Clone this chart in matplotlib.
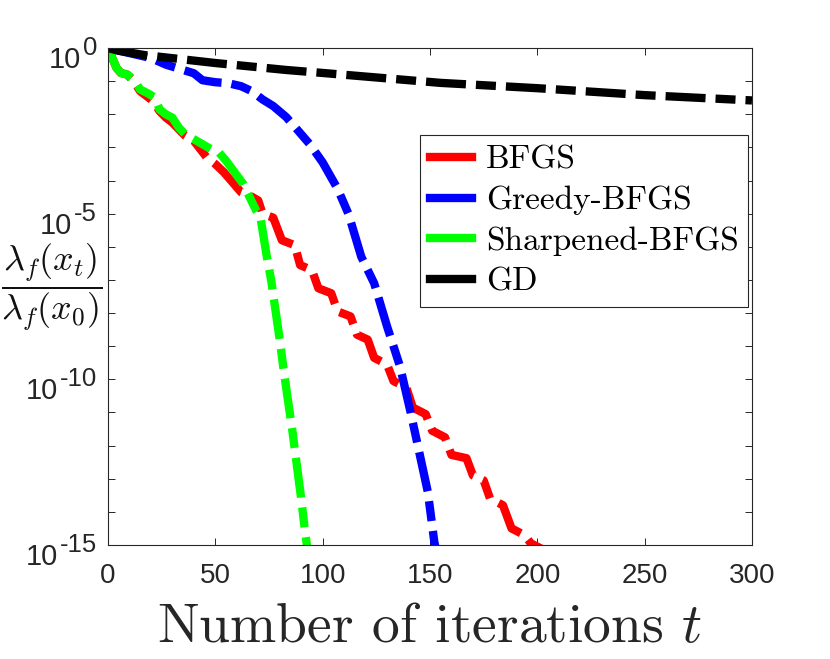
import numpy as np
import matplotlib.pyplot as plt
from matplotlib.ticker import FixedLocator, NullFormatter

plt.rcParams['font.family'] = ['Liberation Sans', 'DejaVu Sans']
plt.rcParams['mathtext.fontset'] = 'cm'
plt.rcParams['lines.scale_dashes'] = False

# values, y given as log10 of the ratio
bfgs_t = [0, 2, 4, 6, 9, 12, 15, 18, 21, 24, 27, 30, 33, 36, 40, 43, 46, 50, 54, 58,
          62, 66, 70, 72, 77, 81, 87, 89.5, 95, 98, 104, 107, 113, 116, 121, 124, 130,
          133, 139, 142, 148, 151, 157, 160, 167, 170, 175, 178, 184, 188, 194, 197, 203]
bfgs_log = [0, -0.3, -0.6, -0.75, -0.8, -1.0, -1.3, -1.45, -1.6, -1.9, -2.1, -2.25, -2.45,
            -2.65, -2.8, -3.05, -3.3, -3.5, -3.75, -4.05, -4.35, -4.45, -4.6, -5.0, -5.12,
            -5.8, -5.95, -6.55, -6.7, -7.25, -7.4, -7.95, -8.1, -8.65, -8.8, -9.35, -9.55,
            -10.05, -10.25, -10.85, -11.05, -11.55, -11.75, -12.28, -12.38, -12.9, -13.05,
            -13.6, -13.8, -14.5, -14.7, -14.95, -15.15]

greedy_t = [0, 10, 20, 27, 35, 40, 44, 50, 56, 62, 67, 72, 77, 83, 88, 94, 100, 107,
            112, 118, 124, 130, 136, 141, 145, 149, 152, 154]
greedy_log = [0, -0.15, -0.3, -0.5, -0.66, -0.76, -0.97, -1.03, -1.06, -1.15, -1.3,
              -1.55, -1.75, -2.08, -2.45, -2.9, -3.45, -4.25, -5.0, -6.3, -7.1, -8.4,
              -9.6, -11.0, -12.2, -13.4, -14.9, -15.5]

sharp_t = [0, 2, 4, 6, 9, 12, 15, 19, 22, 24, 27, 30, 33, 36, 40, 44, 48, 51, 55, 59,
           63, 66, 69, 71, 74, 76, 78, 80, 82, 84, 86, 88, 90, 92, 94]
sharp_log = [0, -0.3, -0.6, -0.75, -0.8, -0.95, -1.25, -1.38, -1.5, -1.85, -2.0, -2.1,
             -2.4, -2.6, -2.75, -2.9, -3.05, -3.1, -3.4, -3.75, -4.1, -4.5, -4.9, -5.1,
             -6.3, -7.0, -7.9, -8.8, -9.8, -10.7, -11.6, -12.6, -13.6, -14.7, -15.6]

gd_t = [0, 5, 17, 50, 83, 100, 155, 200, 250, 300]
gd_log = [0, -0.08, -0.21, -0.45, -0.66, -0.75, -1.05, -1.21, -1.42, -1.58]

labels = ['BFGS', 'Greedy-BFGS', 'Sharpened-BFGS', 'GD']
colors = ['#ff0000', '#0000ff', '#00ff00', '#000000']
xticks = [0, 50, 100, 150, 200, 250, 300]
ylab_exp = [0, -5, -10, -15]

fig = plt.figure(figsize=(8.3, 6.59), dpi=100)
ax = fig.add_axes([0.1301, 0.173, 0.7759, 0.754])

dash = (0, (28.8, 7.2, 14.4, 7.2))
series = [(bfgs_t, bfgs_log), (greedy_t, greedy_log), (sharp_t, sharp_log), (gd_t, gd_log)]
for (t, lg), lab, c in zip(series, labels, colors):
    ax.plot(t, 10.0 ** np.array(lg), color=c, lw=6, linestyle=dash, label=lab,
            solid_joinstyle='round', dash_joinstyle='round')

ax.set_yscale('log')
ax.set_xlim(0, 300)
ax.set_ylim(1e-15, 1e0)
ax.xaxis.set_major_locator(FixedLocator(xticks))
ax.yaxis.set_major_locator(FixedLocator([10.0 ** k for k in range(-15, 1)]))
ax.yaxis.set_minor_locator(FixedLocator([]))
ax.yaxis.set_major_formatter(NullFormatter())
ax.yaxis.set_minor_formatter(NullFormatter())

axc = '#262626'
for s in ax.spines.values():
    s.set_color(axc)
    s.set_linewidth(0.8)
ax.tick_params(which='both', direction='in', top=True, right=True, length=5,
               width=0.7, color=axc, labelcolor=axc, labelsize=20)
ax.tick_params(axis='x', pad=13)

# y tick labels drawn MATLAB-like: "10" with a large exponent
exps = []
for e in ylab_exp:
    et = ax.annotate(str(e), xy=(0, 10.0 ** e),
                     xycoords=('axes fraction', 'data'), xytext=(-11, -7),
                     textcoords='offset pixels', ha='right', va='baseline',
                     fontsize=18.5, color=axc)
    exps.append((e, et))
fig.canvas.draw()
for e, et in exps:
    bb = et.get_window_extent()
    yd = ax.transData.transform((0, 10.0 ** e))[1]
    ax.annotate('10', xy=(bb.x0 - 2, yd - 20), xycoords='figure pixels',
                ha='right', va='baseline', fontsize=21, color=axc,
                annotation_clip=False)

ax.set_xlabel('Number of iterations $t$', fontfamily='cmr10', fontsize=40, color=axc,
              va='baseline')
ax.xaxis.set_label_coords(0.5, -0.195)
ax.set_ylabel(r'$\dfrac{\lambda_f(x_t)}{\lambda_f(x_0)}$', fontsize=26, rotation=0,
              ha='center', va='center', color='#111111')
ax.yaxis.set_label_coords(-0.087, 0.519)

leg = ax.legend(loc='upper left', bbox_to_anchor=(0.4845, 0.825), fancybox=False,
                framealpha=1, edgecolor=axc, prop={'family': 'cmr10', 'size': 24},
                handlelength=1.25, handletextpad=0.42, borderpad=0.3,
                labelspacing=0.34, borderaxespad=0)
leg.get_frame().set_linewidth(0.8)
for h in leg.get_lines():
    h.set_linestyle('-')
    h.set_linewidth(6)

fig.savefig('out.png', dpi=100)
